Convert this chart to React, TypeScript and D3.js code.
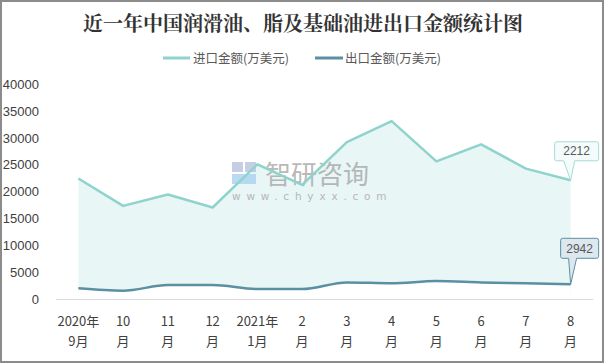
import React from "react";
import * as d3 from "d3";

const categories = ["2020年|9月", "10|月", "11|月", "12|月", "2021年|1月", "2|月", "3|月", "4|月", "5|月", "6|月", "7|月", "8|月"];
const importValues = [22460, 17360, 19480, 17060, 25120, 21270, 29270, 33180, 25670, 28840, 24310, 22140];
const exportValues = [1990, 1550, 2600, 2600, 1860, 1860, 3100, 2920, 3350, 3100, 2920, 2740];
const yTicks = [0, 5000, 10000, 15000, 20000, 25000, 30000, 35000, 40000];
const seriesNames = ["进口金额(万美元)", "出口金额(万美元)"];
const endLabels = ["2212", "2942"];
const title = "近一年中国润滑油、脂及基础油进出口金额统计图";

const W = 605, H = 364;
const IMPORT_COLOR = "#8fd3cd";
const EXPORT_COLOR = "#5b8fa3";
const FILL = "#e9f6f6";
const TEXT = "#404040";
const FONT = "'Noto Sans CJK SC', 'Liberation Sans', sans-serif";

export default function App() {
  const x = d3.scaleBand<number>().domain(d3.range(categories.length)).range([56, 593]);
  const y = d3.scaleLinear().domain([0, 40000]).range([299, 84.5]);
  const cx = (i: number) => (x(i) as number) + x.bandwidth() / 2;

  const impLine = d3.line<number>().x((_, i) => cx(i)).y((d) => y(d));
  const impArea = d3.area<number>().x((_, i) => cx(i)).y0(y(0)).y1((d) => y(d));
  const expLine = d3.line<number>().x((_, i) => cx(i)).y((d) => y(d)).curve(d3.curveMonotoneX);
  const expArea = d3.area<number>().x((_, i) => cx(i)).y0(y(0)).y1((d) => y(d)).curve(d3.curveMonotoneX);

  const last = categories.length - 1;
  const ix = cx(last), iy = y(importValues[last]);
  const ex = cx(last), ey = y(exportValues[last]);

  return (
    <div style={{ position: "fixed", left: 0, top: 0, width: W, height: H, background: "#fff" }}>
      <svg width={W} height={H} style={{ display: "block" }}>
        <rect x={0} y={0} width={W} height={H} fill="#fff" />
        <rect x={1} y={1} width={W - 3} height={H - 3} fill="none" stroke="#8c8c8c" strokeWidth={2} />
        <text x={303} y={31} textAnchor="middle" fontFamily="'Noto Serif CJK SC', 'Noto Sans CJK SC', serif" fontWeight="bold" fontSize={20} fill="#333">
          {title}
        </text>
        {/* legend */}
        <g fontFamily={FONT} fontSize={12.5} fill="#595959">
          <line x1={163} x2={190} y1={58} y2={58} stroke={IMPORT_COLOR} strokeWidth={3} />
          <text x={193} y={62.5}>{seriesNames[0]}</text>
          <line x1={315} x2={343} y1={58} y2={58} stroke={EXPORT_COLOR} strokeWidth={3} />
          <text x={345} y={62.5}>{seriesNames[1]}</text>
        </g>
        {/* y axis labels */}
        <g fontFamily="'Liberation Sans', sans-serif" fontSize={13} fill={TEXT}>
          {yTicks.map((t) => (
            <text key={t} x={39} y={y(t) + 4.5} textAnchor="end">{t}</text>
          ))}
        </g>
        {/* areas */}
        <path d={impArea(importValues) || ""} fill={FILL} />
        <path d={expArea(exportValues) || ""} fill="#fff" />
        {/* watermark */}
        <g opacity={0.8}>
          <rect x={232} y={162} width={11} height={10} fill="#b7c2dc" />
          <rect x={245} y={162} width={11} height={10} fill="#b7c2dc" />
          <rect x={232} y={174} width={24} height={10} fill="#a9d2ef" />
          <text x={265} y={184} fontFamily={FONT} fontSize={26} fill="#a8a8a8">智研咨询</text>
          <text x={232} y={200} fontFamily="'DejaVu Sans', sans-serif" fontSize={10.5} fill="#a8a8a8" letterSpacing={5.8}>www.chyxx.com</text>
        </g>
        {/* lines */}
        <path d={impLine(importValues) || ""} fill="none" stroke={IMPORT_COLOR} strokeWidth={2.5} strokeLinejoin="round" />
        <path d={expLine(exportValues) || ""} fill="none" stroke={EXPORT_COLOR} strokeWidth={2.5} strokeLinejoin="round" />
        {/* x axis */}
        <line x1={56} x2={593} y1={299.5} y2={299.5} stroke="#d9d9d9" strokeWidth={1} />
        <g fontFamily={FONT} fontSize={13} fill={TEXT} textAnchor="middle">
          {categories.map((c, i) => {
            const [a, b] = c.split("|");
            return (
              <g key={i}>
                <text x={cx(i)} y={326}>{a}</text>
                <text x={cx(i)} y={346}>{b}</text>
              </g>
            );
          })}
        </g>
        {/* callouts */}
        <path
          d={`M${ix - 14},${iy - 38.5} h40 a2,2 0 0 1 2,2 v15 a2,2 0 0 1 -2,2 h-22 L${ix},${iy} L${ix - 7},${iy - 19.5} h-7 a2,2 0 0 1 -2,-2 v-15 a2,2 0 0 1 2,-2 z`}
          fill="#f3fbfb" stroke="#a6dcd7" strokeWidth={1}
        />
        <text x={ix + 6} y={iy - 25} textAnchor="middle" fontFamily="'Liberation Sans', sans-serif" fontSize={12} fill="#595959">{endLabels[0]}</text>
        <path
          d={`M${ex - 8},${ey - 46} h34 a2,2 0 0 1 2,2 v16 a2,2 0 0 1 -2,2 h-20 L${ex},${ey} L${ex - 2},${ey - 26} h-6 a2,2 0 0 1 -2,-2 v-16 a2,2 0 0 1 2,-2 z`}
          fill="#dde7ee" stroke={EXPORT_COLOR} strokeWidth={1}
        />
        <text x={ex + 9} y={ey - 31.5} textAnchor="middle" fontFamily="'Liberation Sans', sans-serif" fontSize={12} fill="#595959">{endLabels[1]}</text>
      </svg>
    </div>
  );
}
